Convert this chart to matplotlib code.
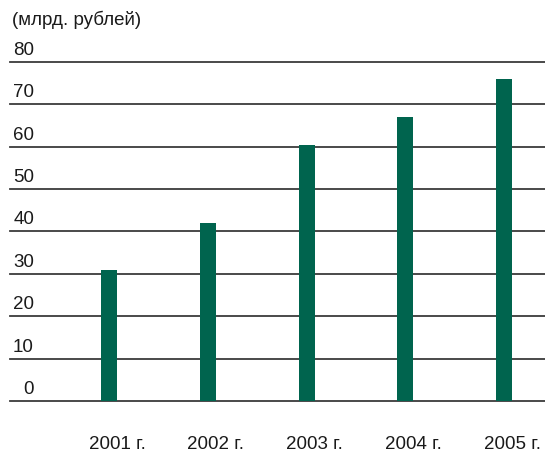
import matplotlib
matplotlib.use("Agg")
import matplotlib.pyplot as plt
import matplotlib.transforms as mtransforms

plt.rcParams['font.family'] = ['Liberation Sans', 'DejaVu Sans']

categories = ["2001 г.", "2002 г.", "2003 г.", "2004 г.", "2005 г."]
values = [31, 42, 60.5, 67, 76]
yticks = [0, 10, 20, 30, 40, 50, 60, 70, 80]
unit_label = "(млрд. рублей)"

FS = 13.5
fig = plt.figure(figsize=(5.45, 4.53), dpi=100)
ax = fig.add_axes([10/545, 52/453, 535/545, 339/453])

xs = list(range(len(categories)))
ax.bar(xs, values, width=0.162, color="#00644E", zorder=3)

for t in yticks:
    ax.axhline(t, color="#3a3a3a", lw=1.3, zorder=1, clip_on=False)

ax.set_xlim(-1.0025, 4.415)
ax.set_ylim(0, 80)
for s in ax.spines.values():
    s.set_visible(False)
ax.set_yticks([])
ax.set_xticks(xs)
ax.set_xticklabels(categories, fontsize=FS, color="#1a1a1a")
ax.tick_params(axis='x', length=0, pad=25)
off = mtransforms.ScaledTranslation(8/100, 0, fig.dpi_scale_trans)
for lab in ax.get_xticklabels():
    lab.set_transform(lab.get_transform() + off)

trans = mtransforms.blended_transform_factory(ax.transAxes, ax.transData)
up = mtransforms.ScaledTranslation(0, 3/100, fig.dpi_scale_trans)
for t in yticks:
    ax.text((34-10)/535, t, str(t), transform=trans + up, ha='right', va='bottom',
            fontsize=FS, color="#1a1a1a")

fig.text(12/545, 1 - 20/453, unit_label, ha='left', va='center', fontsize=FS, color="#1a1a1a")

fig.savefig("out.png", dpi=100)
